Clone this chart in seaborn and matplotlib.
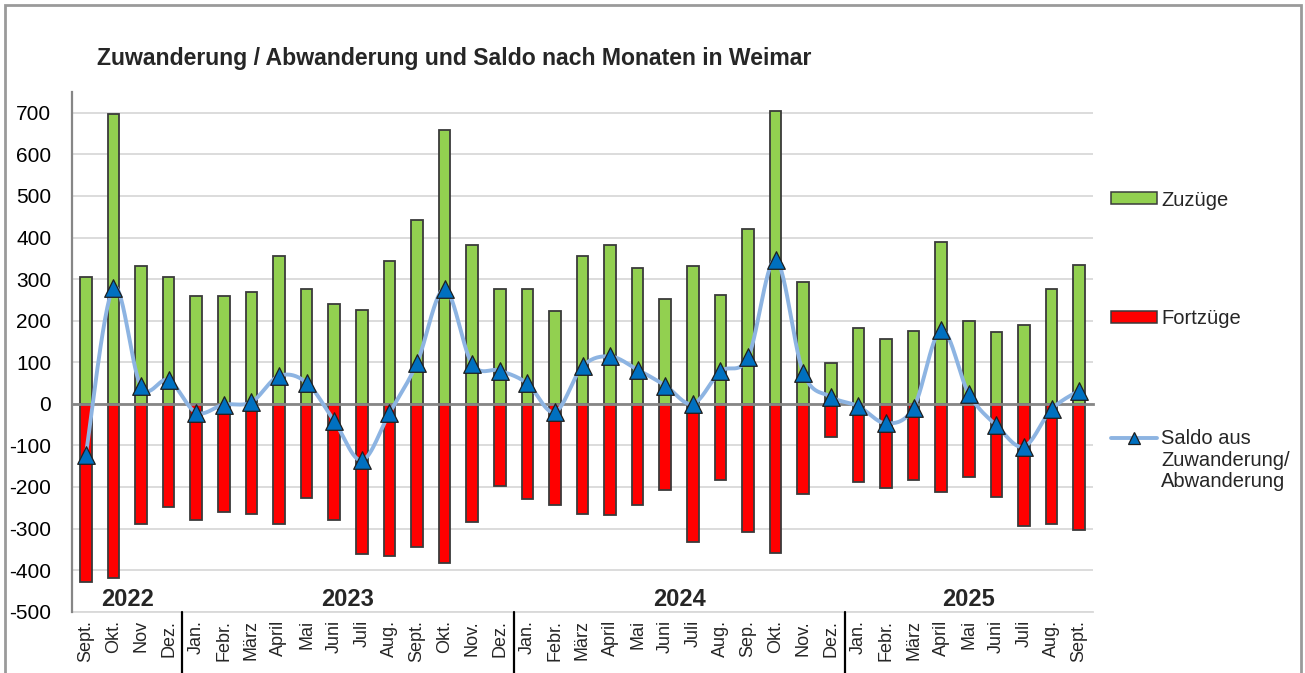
import numpy as np
import pandas as pd
import matplotlib
matplotlib.use("Agg")
import matplotlib.pyplot as plt
import seaborn as sns
from matplotlib.patches import Patch, Rectangle
from matplotlib.lines import Line2D

# ---------------- data ----------------
months = ["Sept.", "Okt.", "Nov", "Dez.",
          "Jan.", "Febr.", "März", "April", "Mai", "Juni", "Juli", "Aug.", "Sept.", "Okt.", "Nov.", "Dez.",
          "Jan.", "Febr.", "März", "April", "Mai", "Juni", "Juli", "Aug.", "Sep.", "Okt.", "Nov.", "Dez.",
          "Jan.", "Febr.", "März", "April", "Mai", "Juni", "Juli", "Aug.", "Sept."]
years = ["2022"] * 4 + ["2023"] * 12 + ["2024"] * 12 + ["2025"] * 9

zuzuege = [305, 697, 332, 305,
           259, 259, 270, 355, 277, 239, 226, 344, 442, 658, 381, 277,
           277, 224, 355, 381, 326, 252, 332, 262, 421, 705, 293, 97,
           183, 155, 175, 390, 200, 172, 190, 275, 335]
fortzuege = [-428, -418, -290, -248,
             -280, -261, -266, -288, -226, -280, -362, -367, -344, -382, -285, -197,
             -228, -244, -265, -267, -244, -208, -332, -184, -309, -358, -218, -80,
             -189, -202, -184, -212, -176, -224, -293, -288, -303]
saldo = [-123, 279, 42, 57,
         -21, -2, 4, 67, 51, -41, -136, -23, 98, 276, 96, 80,
         49, -20, 90, 114, 82, 44, 0, 78, 112, 347, 75, 17,
         -6, -47, -9, 178, 24, -52, -103, -13, 32]

title = "Zuwanderung / Abwanderung und Saldo nach Monaten in Weimar"
leg_zu = "Zuzüge"
leg_fort = "Fortzüge"
leg_saldo_1 = "Saldo aus"
leg_saldo_2 = "Zuwanderung/\nAbwanderung"
yticks = list(range(-500, 701, 100))

# ---------------- style ----------------
sns.set_style("white")
plt.rcParams["font.family"] = ["Liberation Sans", "DejaVu Sans"]

GREEN = "#92D050"
RED = "#FF0000"
EDGE = "#3A3A3A"
LINE = "#8DB4E2"
MARK = "#0070C0"
GRID = "#D9D9D9"
AXIS = "#868686"

W, H = 1305, 673
fig = plt.figure(figsize=(W / 100, H / 100), dpi=100)
fig.patch.set_facecolor("white")
ax = fig.add_axes([72 / W, (H - 611.7) / H, 1021 / W, 519.7 / H])

n = len(months)
df = pd.DataFrame({"idx": np.arange(n), "zu": zuzuege, "fort": fortzuege, "saldo": saldo})

sns.barplot(data=df, x="idx", y="zu", native_scale=True, color=GREEN, saturation=1,
            edgecolor=EDGE, linewidth=1.3, width=0.42, errorbar=None, ax=ax)
sns.barplot(data=df, x="idx", y="fort", native_scale=True, color=RED, saturation=1,
            edgecolor=EDGE, linewidth=1.3, width=0.42, errorbar=None, ax=ax)

# smoothed saldo line (Excel-like Catmull-Rom Bezier rendering)
xv = df["idx"].to_numpy(float)
yv = df["saldo"].to_numpy(float)
P = np.column_stack([xv, yv])
Pe = np.vstack([P[0], P, P[-1]])
t = np.linspace(0, 1, 30)[:, None]
curve = []
for i in range(n - 1):
    p0, p3 = Pe[i + 1], Pe[i + 2]
    c1 = p0 + (Pe[i + 2] - Pe[i]) / 6.0
    c2 = p3 - (Pe[i + 3] - Pe[i + 1]) / 6.0
    seg = ((1 - t) ** 3) * p0 + 3 * ((1 - t) ** 2) * t * c1 + 3 * (1 - t) * t ** 2 * c2 + t ** 3 * p3
    curve.append(seg if i == 0 else seg[1:])
curve = np.vstack(curve)
sns.lineplot(x=curve[:, 0], y=curve[:, 1], sort=False, estimator=None, color=LINE,
             linewidth=2.8, ax=ax, zorder=3)
sns.scatterplot(data=df, x="idx", y="saldo", marker="^", s=160, color=MARK,
                edgecolor="#1F1F1F", linewidth=0.9, ax=ax, zorder=4)

# axes
ax.set_xlim(-0.5, n - 0.5)
ax.set_ylim(-500, 750)
ax.set_yticks(yticks)
ax.set_yticklabels([str(v) for v in yticks], fontsize=15)
ax.yaxis.grid(True, color=GRID, linewidth=1.3)
ax.set_axisbelow(True)
ax.set_xlabel("")
ax.set_ylabel("")

for s in ["top", "right"]:
    ax.spines[s].set_visible(False)
ax.spines["left"].set_color(AXIS)
ax.spines["left"].set_linewidth(1.6)
ax.tick_params(axis="y", direction="out", length=5, width=1.4, color=AXIS, pad=10, labelcolor="black")

# zero line with category boundary ticks
ax.spines["bottom"].set_position(("data", 0))
ax.spines["bottom"].set_color(AXIS)
ax.spines["bottom"].set_linewidth(2.0)
ax.spines["bottom"].set_zorder(2.6)
ax.set_xticks(np.arange(-0.5, n, 1.0))
ax.tick_params(axis="x", direction="inout", length=8, width=1.4, color=AXIS, labelbottom=False)

# month labels at bottom
sec = ax.secondary_xaxis("bottom")
sec.set_xticks(np.arange(n), labels=months, rotation=90, fontsize=13)
sec.tick_params(length=0, pad=6)
sec.spines["bottom"].set_color(GRID)
sec.spines["bottom"].set_linewidth(1.3)

# year labels and separators
yrs = pd.Series(years)
for yr in yrs.unique():
    pos = np.where(yrs == yr)[0]
    ax.text(pos.mean(), -499, yr, ha="center", va="bottom", fontsize=17, fontweight="bold")
    if pos[0] > 0:
        ax.axvline(pos[0] - 0.5, ymin=-0.13, ymax=0, color="black", linewidth=1.6, clip_on=False)

# title
fig.text(97 / W, 1 - 58 / H, title, ha="left", va="center", fontsize=16.6, fontweight="bold")

# legends
h_zu = Patch(facecolor=GREEN, edgecolor=EDGE, linewidth=1.1)
h_fo = Patch(facecolor=RED, edgecolor=EDGE, linewidth=1.1)
h_sa = Line2D([0], [0], color=LINE, linewidth=2.8, marker="^", markersize=8,
              markerfacecolor=MARK, markeredgecolor="#1F1F1F", markeredgewidth=0.9)
common = dict(loc="center left", frameon=False, borderpad=0, borderaxespad=0,
              handlelength=2.3, handletextpad=0.2, fontsize=14.5, handleheight=0.55)
fig.legend(handles=[h_zu], labels=[leg_zu], bbox_to_anchor=(1111 / W, 1 - 200 / H), **common)
fig.legend(handles=[h_fo], labels=[leg_fort], bbox_to_anchor=(1111 / W, 1 - 319 / H), **common)
fig.legend(handles=[h_sa], labels=[leg_saldo_1], bbox_to_anchor=(1111 / W, 1 - 439 / H), **common)
fig.text(1161 / W, 1 - 451 / H, leg_saldo_2, ha="left", va="top", fontsize=14.5, linespacing=1.12)

# outer border
fig.patches.append(Rectangle((5 / W, -0.05), 1296 / W, 1 - 5 / H + 0.05, transform=fig.transFigure,
                             fill=False, edgecolor="#9A9A9A", linewidth=2, zorder=10))

fig.savefig("out.png", dpi=100, facecolor="white")
